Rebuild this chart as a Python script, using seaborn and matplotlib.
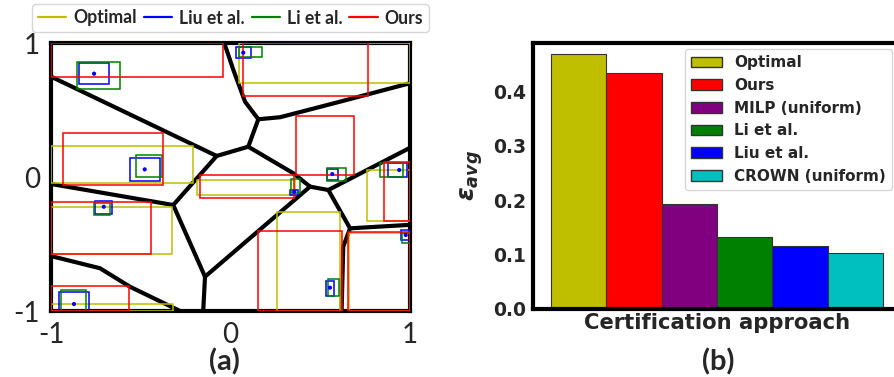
import matplotlib
matplotlib.use("Agg")
import matplotlib.pyplot as plt
from matplotlib.patches import Rectangle, Patch
from matplotlib.lines import Line2D
import pandas as pd
import seaborn as sns

# ── (b) average certified radius per approach ──────────────────
methods = ["Optimal", "Ours", "MILP (uniform)", "Li et al.", "Liu et al.", "CROWN (uniform)"]
eps_avg = [0.469, 0.434, 0.193, 0.132, 0.116, 0.103]

# ── (a) sample points ──────────────────────────────────────────
sample_x = [-0.760, -0.478, 0.071, 0.567, 0.940, 0.355, -0.706, 0.554, 0.976, -0.872]
sample_y = [0.771, 0.057, 0.928, 0.022, 0.052, -0.110, -0.222, -0.826, -0.433, -0.948]

# boxes as (x0, x1, y0, y1)
optimal_boxes = [
    (-1.0, -0.211, -0.047, 0.234),
    (0.049, 1.0, 0.704, 1.0),
    (0.759, 1.0, -0.326, 0.052),
    (-0.188, 0.359, -0.134, -0.022),
    (-1.0, -0.324, -0.577, -0.222),
    (0.261, 0.610, -1.0, -0.263),
    (0.660, 1.0, -1.0, -0.420),
    (-1.0, -0.322, -1.0, -0.948),
]
ours_boxes = [
    (-1.0, -0.043, 0.749, 1.0),
    (-0.931, -0.374, -0.060, 0.326),
    (0.071, 0.764, 0.607, 1.0),
    (0.363, 0.690, 0.015, 0.455),
    (0.857, 1.0, -0.326, 0.114),
    (-0.170, 0.355, -0.154, 0.015),
    (-1.0, -0.443, -0.577, -0.189),
    (0.155, 0.619, -1.0, -0.401),
    (0.656, 1.0, -1.0, -0.408),
    (-1.0, -0.564, -1.0, -0.813),
]
liu_boxes = [
    (-0.842, -0.679, 0.692, 0.849),
    (-0.558, -0.393, -0.028, 0.140),
    (0.031, 0.114, 0.886, 0.972),
    (0.536, 0.597, -0.022, 0.057),
    (0.879, 0.982, 0.002, 0.107),
    (0.331, 0.374, -0.134, -0.097),
    (-0.755, -0.658, -0.276, -0.177),
    (0.532, 0.578, -0.886, -0.774),
    (0.950, 1.0, -0.470, -0.396),
    (-0.955, -0.790, -1.0, -0.860),
]
li_boxes = [
    (-0.857, -0.616, 0.657, 0.860),
    (-0.528, -0.380, -0.002, 0.166),
    (0.049, 0.177, 0.898, 0.972),
    (0.536, 0.643, -0.028, 0.065),
    (0.833, 0.963, -0.002, 0.102),
    (0.337, 0.387, -0.122, -0.015),
    (-0.762, -0.671, -0.284, -0.196),
    (0.545, 0.604, -0.888, -0.763),
    (0.957, 1.0, -0.495, -0.416),
    (-0.946, -0.807, -1.0, -0.843),
]

# decision boundaries (polylines)
boundaries = [
    [(-1.0, 0.749), (-0.077, 0.157)],
    [(-0.077, 0.157), (0.099, 0.226)],
    [(0.099, 0.226), (0.155, 0.431), (0.081, 0.562), (0.016, 0.799), (-0.031, 0.985), (-0.036, 1.0)],
    [(0.155, 0.431), (0.276, 0.446), (0.610, 0.562), (1.0, 0.700)],
    [(0.099, 0.226), (0.350, 0.028), (0.443, -0.072)],
    [(0.443, -0.072), (0.545, -0.097)],
    [(0.545, -0.097), (1.0, 0.218)],
    [(0.545, -0.097), (0.666, -0.383), (1.0, -0.357)],
    [(0.666, -0.383), (0.628, -0.520), (0.619, -1.0)],
    [(0.443, -0.072), (-0.142, -0.744), (-0.152, -1.0)],
    [(-0.077, 0.157), (-0.319, -0.209), (-0.142, -0.744)],
    [(-0.319, -0.209), (-1.0, -0.052)],
    [(-1.0, -0.590), (-0.727, -0.681), (-0.560, -0.819), (-0.281, -1.0)],
]

bar_colors = {"Optimal": "#bfbf00", "Ours": "#ff0000", "MILP (uniform)": "#800080",
              "Li et al.": "#008000", "Liu et al.": "#0000ff", "CROWN (uniform)": "#00bfbf"}
box_sets = [("Optimal", optimal_boxes, "#bfbf00"), ("Liu et al.", liu_boxes, "#0000ff"),
            ("Li et al.", li_boxes, "#008000"), ("Ours", ours_boxes, "#ff0000")]

sns.set_style("white")
plt.rcParams["font.family"] = ["DejaVu Sans"]
plt.rcParams["mathtext.fontset"] = "custom"
plt.rcParams["mathtext.it"] = "DejaVu Sans:italic:bold"
plt.rcParams["mathtext.rm"] = "DejaVu Sans:bold"
plt.rcParams["mathtext.bf"] = "DejaVu Sans:bold"

W, H = 894, 377
fig = plt.figure(figsize=(W / 100, H / 100), dpi=100)
ax_a = fig.add_axes([51 / W, 1 - 311 / H, 359 / W, 268 / H])
ax_b = fig.add_axes([533 / W, 1 - 309 / H, 368 / W, 266.3 / H])

# ── (a) ────────────────────────────────────────────────────────
for line in boundaries:
    xs = [p[0] for p in line]
    ys = [p[1] for p in line]
    ax_a.plot(xs, ys, color="black", lw=3, solid_capstyle="round", solid_joinstyle="round", zorder=2)

for name, boxes, col in box_sets:
    for x0, x1, y0, y1 in boxes:
        ax_a.add_patch(Rectangle((x0, y0), x1 - x0, y1 - y0, fill=False, ec=col, lw=1.1, zorder=3))

sns.scatterplot(x=sample_x, y=sample_y, color="#0000ff", s=9, edgecolor="none", ax=ax_a, zorder=5)

ax_a.set_xlim(-1, 1)
ax_a.set_ylim(-1, 1)
ax_a.set_xticks([-1, 0, 1], labels=["-1", "0", "1"])
ax_a.set_yticks([-1, 0, 1], labels=["-1", "0", "1"])
ax_a.tick_params(direction="out", length=3, width=1, pad=5, labelsize=20)
for lab in ax_a.get_xticklabels() + ax_a.get_yticklabels():
    lab.set_fontfamily("Lato")
for sp in ax_a.spines.values():
    sp.set_linewidth(3)
    sp.set_color("black")

leg_a = fig.legend(handles=[Line2D([], [], color=c, lw=1.6, label=n) for n, _, c in box_sets],
                   loc="center", bbox_to_anchor=(230.5 / W, 1 - 18 / H), ncol=4,
                   prop={"family": "Lato", "weight": "bold", "size": 12.7},
                   handlelength=1.6, handletextpad=0.4, columnspacing=0.4, borderpad=0.3)

# ── (b) ────────────────────────────────────────────────────────
df = pd.DataFrame({"method": methods, "eps": eps_avg})
sns.barplot(data=df, x="method", y="eps", hue="method", palette=bar_colors, width=1.0,
            saturation=1, edgecolor="#333333", linewidth=0.8, legend=False, ax=ax_b)
ax_b.set_xlim(-0.825, 5.825)
ax_b.set_ylim(0, 0.49)
ax_b.set_xticks([])
ax_b.set_yticks([0, 0.1, 0.2, 0.3, 0.4], labels=["0.0", "0.1", "0.2", "0.3", "0.4"])
ax_b.tick_params(axis="y", length=0, pad=5, labelsize=13.5)
for lab in ax_b.get_yticklabels():
    lab.set_fontweight("bold")
ax_b.set_xlabel("Certification approach", fontsize=15.2, fontweight="bold", labelpad=3)
ax_b.set_ylabel(r"$\varepsilon_{avg}$", fontsize=18, labelpad=6)
for sp in ax_b.spines.values():
    sp.set_linewidth(3)
    sp.set_color("black")

ax_b.legend(handles=[Patch(facecolor=bar_colors[m], edgecolor="#333333", label=m) for m in methods],
            loc="upper right", bbox_to_anchor=(891.7 / W, 1 - 49.3 / H), bbox_transform=fig.transFigure,
            borderaxespad=0, prop={"weight": "bold", "size": 11})

fig.text(224 / W, 1 - 362 / H, "(a)", ha="center", va="center", fontfamily="Lato", fontweight="bold", fontsize=21)
fig.text(718 / W, 1 - 362 / H, "(b)", ha="center", va="center", fontfamily="Lato", fontweight="bold", fontsize=21)

fig.savefig("out.png", dpi=100)
